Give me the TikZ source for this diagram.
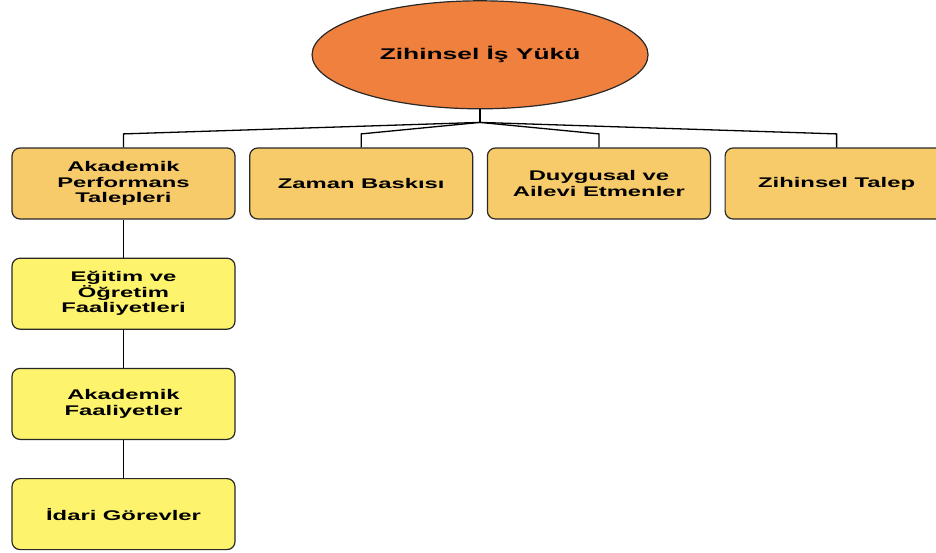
\documentclass[tikz,border=0pt]{standalone}
\usepackage{fontspec}
\newfontfamily\diagfont{Liberation Sans}[FakeStretch=1.7]
\usepackage{tikz}
\usetikzlibrary{positioning,shapes.geometric,calc}
\definecolor{rootorange}{RGB}{240,128,61}
\definecolor{lightorange}{RGB}{247,202,106}
\definecolor{lightyellow}{RGB}{253,243,108}
\definecolor{edgegray}{RGB}{40,40,40}

\begin{document}
\begin{tikzpicture}[
  x=1pt, y=1pt,
  node distance=38pt and 13.5pt,
  root/.style={draw=edgegray, line width=1.2pt, ellipse, fill=rootorange, minimum width=336pt, minimum height=108pt, inner sep=0pt, font=\diagfont\bfseries\fontsize{15.5}{17}\selectfont},
  obox/.style={draw=edgegray, line width=1.2pt, rounded corners=8pt, fill=lightorange, minimum width=223pt, minimum height=71pt, inner sep=2pt, align=center, font=\diagfont\bfseries\fontsize{14}{15.5}\selectfont},
  ybox/.style={obox, fill=lightyellow},
  link/.style={draw=black, line width=1.3pt}
]
\useasboundingbox (0,0) rectangle (936,-552);
% ust sira
\node[obox] (apt) at (123.5,-183.5) {Akademik\\Performans\\Talepleri};
\node[obox, right=of apt] (zb) {Zaman Baskısı};
\node[obox, right=of zb] (dae) {Duygusal ve\\Ailevi Etmenler};
\node[obox, right=of dae] (zt) {Zihinsel Talep};
\node[root, above=38pt of $(zb.north)!0.5!(dae.north)$, anchor=south] (zib) {Zihinsel İş Yükü};
% alt sutun
\node[ybox, below=of apt] (eof) {Eğitim ve\\Öğretim\\Faaliyetleri};
\node[ybox, below=of eof] (af) {Akademik\\Faaliyetler};
\node[ybox, below=of af] (ig) {İdari Görevler};
% baglantilar
\coordinate[below=13pt of zib.south] (hub);
\draw[link] (zib.south) -- (hub);
\foreach \n in {apt,zb,dae,zt}
  \draw[link] (hub) -- ([yshift=13.5pt]\n.north) -- (\n.north);
\draw[link] (apt) -- (eof);
\draw[link] (eof) -- (af);
\draw[link] (af) -- (ig);
\end{tikzpicture}
\end{document}
